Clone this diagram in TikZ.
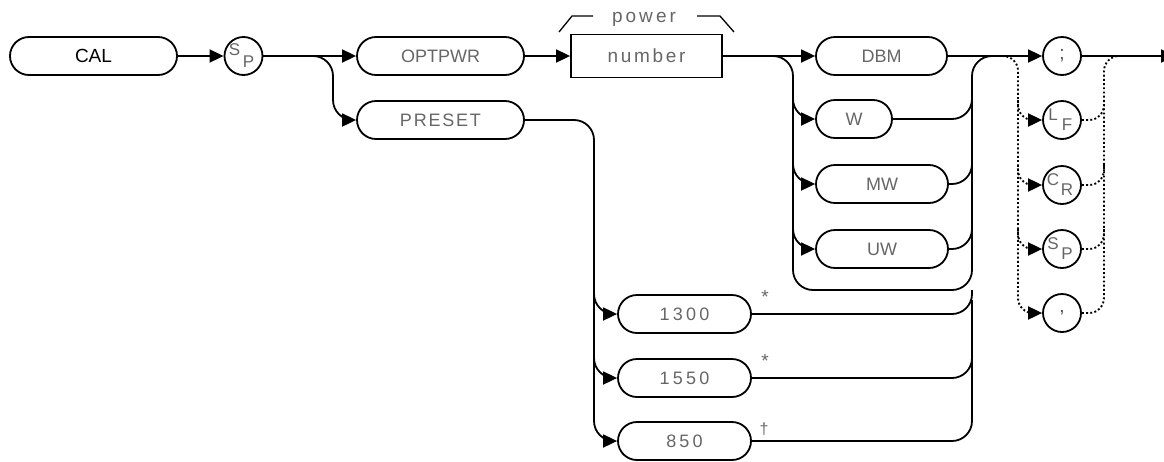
\documentclass[tikz,border=0pt]{standalone}
\usepackage{fontspec}
\setmainfont{Liberation Sans}
\newfontfamily\lblfont[LetterSpace=10]{Liberation Sans}
\newfontfamily\digfont[LetterSpace=18]{Liberation Sans}
\newfontfamily\numfont[LetterSpace=14]{Liberation Sans}
\newfontfamily\powfont[LetterSpace=16]{Liberation Sans}
\usetikzlibrary{arrows.meta}
\begin{document}
\begin{tikzpicture}[x=1pt,y=-1pt,
  line width=1.8pt,
  tip/.style={-{Triangle[length=14pt,width=13pt]}},
  term/.style={draw, rounded corners=19pt, minimum height=38pt, inner sep=0pt,
    text=black!60, font=\fontsize{18}{20}\selectfont},
  digit/.style={term, minimum width=133pt, font=\digfont\fontsize{18}{20}\selectfont},
  circ/.style={draw, circle, minimum size=38pt, inner sep=0pt},
  sub/.style={text=black!60, font=\fontsize{17}{17}\selectfont, inner sep=0pt},
  punct/.style={text=black!70, font=\fontsize{19}{19}\selectfont, inner sep=0pt},
  note/.style={text=black!60, font=\fontsize{19}{19}\selectfont, inner sep=0pt, anchor=north},
  dot/.style={line width=1.9pt, dash pattern=on 1.9pt off 2.3pt},
  rc/.style={rounded corners=20pt},
  rd/.style={rounded corners=15pt},
]
\useasboundingbox (0,0) rectangle (1164,461);

% main row
\node[term, minimum width=167pt, text=black, font=\fontsize{19}{20}\selectfont] (cal) at (93.5,56) {CAL};
\node[circ] (sp1) at (243.5,56) {};
\node[sub] at ([shift={(-9,-6)}]sp1.center) {S};
\node[sub] at ([shift={(5,6)}]sp1.center) {P};
\node[term, minimum width=167pt] (opt) at (440.5,56) {OPTPWR};
\node[term, minimum width=167pt, font=\lblfont\fontsize{18}{20}\selectfont] (pre) at (440.5,120) {PRESET};
\node[draw, minimum width=151pt, minimum height=43pt, inner sep=0pt, text=black!60,
  font=\numfont\fontsize{19}{20}\selectfont] (num) at (646.5,56) {number};
\node[text=black!60, font=\powfont\fontsize{19}{20}\selectfont, inner sep=0pt] (pow) at (644,19) {power};
\draw[line width=1.3pt] (559,32) -- (572,16) -- (593,16);
\draw[line width=1.3pt] (697,16) -- (720,16) -- (734,32);

% units
\node[term, minimum width=131pt] (dbm) at (881.5,56) {DBM};
\node[term, minimum width=76pt] (w) at (854,119) {W};
\node[term, minimum width=132pt] (mw) at (882,184) {MW};
\node[term, minimum width=132pt] (uw) at (882,249) {UW};

% presets
\node[digit] (n1300) at (684.5,314) {1300};
\node[digit] (n1550) at (684.5,378) {1550};
\node[digit] (n850) at (684.5,441) {850};
\node[note] at (765,290) {*};
\node[note] at (765,354) {*};
\node[note, font=\fontsize{16}{16}\selectfont] at (764,422) {†};

% terminators
\node[circ] (semi) at (1062,56) {};
\node[punct] at (semi) {;};
\node[circ] (lf) at (1062,120) {};
\node[sub] at ([shift={(-9,-5)}]lf.center) {L};
\node[sub] at ([shift={(5,5)}]lf.center) {F};
\node[circ] (cr) at (1062,185) {};
\node[sub] at ([shift={(-9,-5)}]cr.center) {C};
\node[sub] at ([shift={(5,5)}]cr.center) {R};
\node[circ] (sp2) at (1062,249) {};
\node[sub] at ([shift={(-9,-5)}]sp2.center) {S};
\node[sub] at ([shift={(5,5)}]sp2.center) {P};
\node[circ] (comma) at (1062,313) {};
\node[punct] at (comma) {,};

% branch points
\coordinate (bA) at (312,56);
\coordinate (bB) at (773,56);
\coordinate (bC) at (998,56);
\coordinate (endp) at (1175,56);

% connectors
\draw[tip] (cal) -- (sp1);
\draw[tip] (sp1) -- (opt);
\draw[tip, rc] (bA) -| (333,120) -- (pre.west);
\draw[tip] (opt) -- (num);
\draw[tip, rc] (pre.east) -| (594,441) -- (n850.west);
\draw[tip, rc] (594,290) |- (n1300.west);
\draw[tip, rc] (594,354) |- (n1550.west);
\draw[tip] (num) -- (dbm);
\draw[rc] (bB) -| (793,290) -| (972,56) -- (995,56);
\draw[tip, rc] (793,95) |- (w.west);
\draw[tip, rc] (793,160) |- (mw.west);
\draw[tip, rc] (793,225) |- (uw.west);
\draw[rc] (w.east) -| (972,95);
\draw[rc] (mw.east) -| (972,160);
\draw[rc] (uw.east) -| (972,225);
\draw[rc] (n1300.east) -| (972,290);
\draw[rc] (n1550.east) -| (972,354);
\draw[rc] (n850.east) -| (972,300);
\draw[tip] (dbm) -- (semi);
\draw[tip] (semi) -- (endp);

% dotted alternatives
\draw[dot, tip, rd] (bC) -| (1018,313) -- (comma.west);
\draw[dot, tip, rd] (1018,100) |- (lf.west);
\draw[dot, tip, rd] (1018,165) |- (cr.west);
\draw[dot, tip, rd] (1018,229) |- (sp2.west);
\draw[dot, rd] (comma.east) -| (1104,56) -- (1122,56);
\draw[dot, rd] (lf.east) -| (1104,100);
\draw[dot, rd] (cr.east) -| (1104,165);
\draw[dot, rd] (sp2.east) -| (1104,229);
\end{tikzpicture}
\end{document}
